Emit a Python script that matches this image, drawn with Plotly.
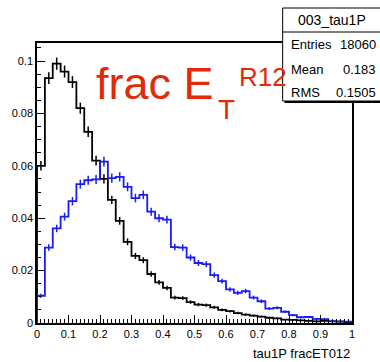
import numpy as np
import plotly.graph_objects as go

# 40 bins over [0, 1], normalised to unit area (sum of contents = 1)
bin_width = 0.025
n_entries = 18060

tau1p_black = [
    0.0600, 0.0935, 0.0990, 0.0960, 0.0920, 0.0820, 0.0730, 0.0620,
    0.0550, 0.0470, 0.0390, 0.0310, 0.0256, 0.0240, 0.0187, 0.0155,
    0.0134, 0.0097, 0.0095, 0.0080, 0.0070, 0.0068, 0.0060, 0.0050,
    0.0045, 0.0038, 0.0032, 0.0028, 0.0024, 0.0020, 0.0018, 0.0013,
    0.0012, 0.0010, 0.0008, 0.0006, 0.0008, 0.0006, 0.0005, 0.0002,
]
tau1p_blue = [
    0.0104, 0.0288, 0.0361, 0.0406, 0.0465, 0.0530, 0.0545, 0.0548,
    0.0616, 0.0553, 0.0558, 0.0520, 0.0477, 0.0489, 0.0425, 0.0400,
    0.0395, 0.0290, 0.0288, 0.0250, 0.0229, 0.0225, 0.0183, 0.0160,
    0.0128, 0.0115, 0.0122, 0.0097, 0.0083, 0.0055, 0.0058, 0.0043,
    0.0030, 0.0022, 0.0023, 0.0016, 0.0015, 0.0007, 0.0006, 0.0005,
]

stats_title = "003_tau1P"
stats_rows = [("Entries", "18060"), ("Mean", "0.183"), ("RMS", "0.1505")]
x_title = "tau1P fracET012"

W, H = 380, 362
L, R, T, B = 34, 28, 43, 39
PW, PH = W - L - R, H - T - B

def px(x):
    return (x - L) / PW

def py(y):
    return (H - B - y) / PH

edges = np.arange(len(tau1p_black) + 1) * bin_width
centers = edges[:-1] + bin_width / 2

fig = go.Figure()

def add_hist(vals, color):
    vals = np.asarray(vals)
    xs = np.concatenate([[0.0], edges])
    ys = np.concatenate([[0.0], vals, [0.0]])
    fig.add_trace(go.Scatter(
        x=xs, y=ys, mode="lines", line=dict(color=color, width=1.8, shape="hv"),
        hoverinfo="skip", showlegend=False))
    err = np.sqrt(vals / n_entries)
    fig.add_trace(go.Scatter(
        x=centers, y=vals, mode="markers", marker=dict(size=1, color=color),
        error_y=dict(type="data", array=err, color=color, thickness=1.5, width=0),
        hoverinfo="skip", showlegend=False))

add_hist(tau1p_black, "black")
add_hist(tau1p_blue, "#1a1aff")

axis_font = dict(family="Liberation Sans Narrow, Liberation Sans, Arial", size=11, color="black")

fig.update_xaxes(
    range=[0, 1], dtick=0.1, tick0=0, ticks="inside", ticklen=8, tickwidth=1,
    tickcolor="black", showgrid=False, zeroline=False, showline=True,
    linecolor="black", linewidth=1.5, mirror=True, tickfont=axis_font,
    minor=dict(dtick=0.0125, ticks="inside", ticklen=4, tickcolor="black", showgrid=False),
)
fig.update_yaxes(
    range=[0, 0.1069], dtick=0.02, tick0=0, ticks="inside", ticklen=8, tickwidth=1,
    tickcolor="black", showgrid=False, zeroline=False, showline=True,
    linecolor="black", linewidth=1.5, mirror=True, tickfont=axis_font,
    minor=dict(dtick=0.005, ticks="inside", ticklen=4, tickcolor="black", showgrid=False),
)

shapes = []
# statistics box with drop shadow
bx0, bx1, by0, by1 = 282, 381, 8, 101
shapes.append(dict(type="rect", xref="paper", yref="paper",
                   x0=px(bx0 + 2), x1=px(bx1 + 2), y0=py(by1 + 2), y1=py(by0 + 2),
                   fillcolor="black", line=dict(width=0), layer="above"))
shapes.append(dict(type="rect", xref="paper", yref="paper",
                   x0=px(bx0), x1=px(bx1), y0=py(by1), y1=py(by0),
                   fillcolor="white", line=dict(color="black", width=1), layer="above"))
shapes.append(dict(type="line", xref="paper", yref="paper",
                   x0=px(bx0), x1=px(bx1), y0=py(32), y1=py(32),
                   line=dict(color="black", width=1), layer="above"))

stat_font = dict(family="Liberation Sans Narrow, Liberation Sans, Arial", size=13, color="black")
annotations = [
    dict(text=stats_title, x=px(332), y=py(20), xref="paper", yref="paper",
         xanchor="center", yanchor="middle", showarrow=False,
         font=dict(family=stat_font["family"], size=14, color="black")),
]
row_y = [44, 69, 92]
for (lab, val), yy in zip(stats_rows, row_y):
    annotations.append(dict(text=lab, x=px(288), y=py(yy), xref="paper", yref="paper",
                            xanchor="left", yanchor="middle", showarrow=False, font=stat_font))
    annotations.append(dict(text=val, x=px(378), y=py(yy), xref="paper", yref="paper",
                            xanchor="right", yanchor="middle", showarrow=False, font=stat_font))

annotations.append(dict(text=x_title, x=px(352), y=py(353), xref="paper", yref="paper",
                        xanchor="right", yanchor="middle", showarrow=False,
                        font=dict(family="Liberation Sans Narrow, Liberation Sans, Arial",
                                  size=13, color="black")))

# red label: frac E_T^R12
red = "#e02a08"
big_font = "Liberation Sans, Arial"
annotations.append(dict(text="frac E", x=px(214), y=py(83), xref="paper", yref="paper",
                        xanchor="right", yanchor="middle", showarrow=False, borderpad=0,
                        font=dict(family=big_font, size=45, color=red)))
annotations.append(dict(text="T", x=px(216), y=py(109), xref="paper", yref="paper",
                        xanchor="left", yanchor="middle", showarrow=False, borderpad=0,
                        font=dict(family=big_font, size=28, color=red)))
annotations.append(dict(text="R12", x=px(237), y=py(77), xref="paper", yref="paper",
                        xanchor="left", yanchor="middle", showarrow=False, borderpad=0,
                        font=dict(family=big_font, size=26, color=red)))

fig.update_layout(
    width=W, height=H, margin=dict(l=L, r=R, t=T, b=B),
    paper_bgcolor="white", plot_bgcolor="white",
    shapes=shapes, annotations=annotations, showlegend=False,
)

fig.write_html("out.html")
